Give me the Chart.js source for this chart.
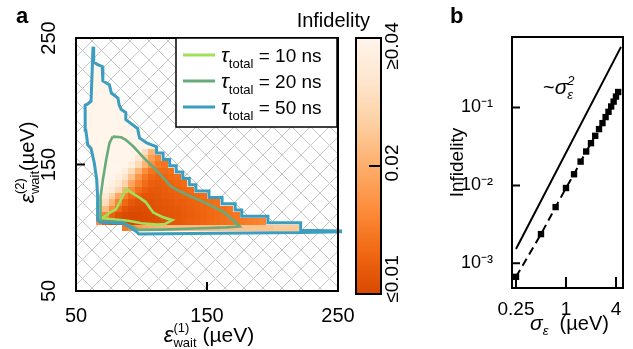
<!DOCTYPE html>
<html><head><meta charset="utf-8">
<script src="https://cdn.jsdelivr.net/npm/chart.js@4.4.1/dist/chart.umd.min.js"></script>
<style>
html,body{margin:0;padding:0;background:#fff;}
body{width:633px;height:349px;position:relative;overflow:hidden;}
canvas{position:absolute;top:0;}
</style></head><body>
<canvas id="ca" width="400" height="349" style="left:0"></canvas>
<canvas id="cc" width="150" height="349" style="left:290px"></canvas>
<canvas id="cb" width="193" height="349" style="left:440px"></canvas>
<script>
// ---------------- data : panel a ----------------
const xTicksA = [50, 150, 250];
const yTicksA = [50, 150, 250];
const contourNames = ['10 ns', '20 ns', '50 ns'];
const contourColors = ['#a0e05c', '#68ab7b', '#3b9dbf'];
const contour10 = [[88.5,131],[92.5,127.5],[96,125.5],[103,120.5],[109,112],[116,108.5],[123.5,106],[118,103],[112,102.5],[100,103.5],[90,105.5],[80,106.5],[70,107.5],[76,112],[80.5,114.5],[83,119.5],[85.5,124.5],[88.5,131]];
const contour20 = [[78,172],[84.5,171.5],[88,169.5],[94,164],[101,156],[108,149],[115,141.5],[122,133],[127,130],[137,125],[147,120.5],[155,116.5],[162.5,112.5],[168,107.5],[172.5,103.5],[175,101],[165,100.3],[152,99.8],[130,99],[114,98.5],[98,98.3],[95,100],[90,102],[85,104.5],[68.5,105],[68.5,110],[69,124.5],[70.5,137.7],[73,153.6],[75.5,166.8],[78,172]];
const contour50 = [[63,243],[63.5,231],[66.5,229],[70,227.5],[70.5,216],[75.5,213],[77,206.5],[82,202.5],[83,197],[84.5,193.5],[88,191],[88,185.5],[97,178.5],[98.5,171],[104,167],[111.5,164],[111.5,159],[116.5,159],[116.5,154],[121.5,154],[121.5,149],[126.5,149],[126.5,144],[131.5,144],[131.5,139],[136.5,139],[136.5,134],[141.5,134],[141.5,129],[151.5,129],[151.5,124],[161.5,124],[161.5,119],[171.5,119],[171.5,114],[176.5,114],[176.5,109],[196.5,109],[196.5,104],[221.5,104],[221.5,98],[252,97.5],[252,96.8],[222,96.2],[98,95],[96,97],[91,100.5],[86,103.5],[68,104.5],[66.5,106],[66.5,124.5],[65.8,138],[64,151],[61.5,162.6],[59,165.4],[57.5,177],[57,197],[58.5,197.5],[61.5,200],[63,243]];
// heat-map cells (5 ueV grid): row centre y, first cell centre x, infidelity values
const heatRowY  = [100, 105, 110, 115, 120, 125, 130, 135, 140, 145, 150, 155, 160];
const heatRowX0 = [87.5, 67.5, 67.5, 67.5, 67.5, 67.5, 72.5, 77.5, 82.5, 87.5, 92.5, 97.5, 102.5];
const heatRowVals = [
 [0.014,0.016,0.018,0.019,0.02,0.021,0.021,0.022,0.022,0.022,0.022,0.022,0.022,0.022,0.022,0.023,0.023,0.023,0.023,0.023,0.023,0.023,0.023,0.024,0.024,0.024,0.024],
 [0.016,0.012,0.0105,0.0101,0.01,0.01,0.0101,0.0102,0.0104,0.0106,0.0108,0.011,0.0112,0.0115,0.0118,0.012,0.0123,0.0126,0.0129,0.0132,0.0135,0.0138,0.0141,0.0144,0.0147,0.015],
 [0.022,0.015,0.0118,0.0106,0.0102,0.0101,0.0101,0.0102,0.0104,0.0106,0.0108,0.011,0.0112,0.0114,0.0117,0.0119,0.0122,0.0125,0.0128,0.0131,0.0134,0.0138],
 [0.031,0.022,0.016,0.0125,0.011,0.0105,0.0103,0.0104,0.0105,0.0107,0.0109,0.0111,0.0113,0.0115,0.0118,0.012,0.0123,0.0126,0.0129,0.0132,0.0136],
 [0.034,0.029,0.021,0.015,0.0125,0.0112,0.0107,0.0106,0.0107,0.0109,0.0111,0.0113,0.0115,0.0117,0.012,0.0122,0.0125,0.0128,0.0132],
 [0.038,0.033,0.026,0.019,0.0145,0.0125,0.0115,0.011,0.011,0.0112,0.0114,0.0116,0.0118,0.012,0.0123,0.0126,0.013],
 [0.038,0.034,0.028,0.021,0.016,0.013,0.0118,0.0113,0.0113,0.0115,0.0118,0.012,0.0124,0.0128],
 [0.038,0.033,0.026,0.019,0.015,0.0128,0.0118,0.0116,0.0118,0.012,0.0124,0.0128],
 [0.037,0.031,0.023,0.017,0.014,0.0125,0.012,0.0122,0.0126,0.013],
 [0.036,0.028,0.021,0.016,0.0135,0.0128,0.0128,0.0132],
 [0.036,0.028,0.021,0.016,0.014,0.0135],
 [0.032,0.024,0.018,0.015],
 [0.029,0.021]
];
const cbTicks  = [0.01, 0.02, 0.04];
const cbLabels = ['≤0.01', '0.02', '≥0.04'];
// ---------------- data : panel b ----------------
const sigma = [0.25,0.5,0.75,1,1.25,1.5,1.75,2,2.25,2.5,2.75,3,3.25,3.5,3.75,4,4.25];
const infid = [0.00067,0.00237,0.00527,0.00926,0.0139,0.0202,0.0272,0.0348,0.0433,0.0528,0.063,0.0753,0.088,0.103,0.119,0.138,0.158];
const guideX = [0.25, 4.6];
const guideY = [0.00153, 0.6];
const xTicksB = [0.25, 1, 4];
const xLabelsB = ['0.25', '1', '4'];
const yTicksB = [0.001, 0.01, 0.1];
const yLabelsB = ['10⁻³', '10⁻²', '10⁻¹'];

// ---------------- helpers ----------------
Chart.defaults.font.family = '"Liberation Sans", Arial, sans-serif';
Chart.defaults.color = '#000';
const FAM = '"Liberation Sans", Arial, sans-serif';
function F(s, it, b) { return (it ? 'italic ' : '') + (b ? 'bold ' : '') + s + 'px ' + FAM; }
const OR = [[255,245,235],[254,230,206],[253,208,162],[253,174,107],[253,141,60],[241,105,19],[217,72,1]];
function cmap(v) {
  let t = Math.log(v / 0.01) / Math.log(4); t = Math.max(0, Math.min(1, t));
  const f = 0.75 * (1 - t) / 0.125; const i = Math.min(5, Math.floor(f)); const r = f - i;
  const a = OR[i], b = OR[i + 1];
  return 'rgb(' + [0,1,2].map(k => Math.round(a[k] + (b[k] - a[k]) * r)).join(',') + ')';
}
function richW(ctx, parts) {
  let w = 0;
  for (const p of parts) {
    ctx.font = F(p.s, p.i);
    if (p.sup != null) w += Math.max(ctx.measureText(p.sup).width, ctx.measureText(p.sub).width);
    else w += ctx.measureText(p.t).width;
  }
  return w;
}
function rich(ctx, parts, x, y, align, rot) {
  ctx.save(); ctx.translate(x, y); if (rot) ctx.rotate(rot);
  const w = richW(ctx, parts);
  let cx = align === 'center' ? -w / 2 : (align === 'right' ? -w : 0);
  ctx.textAlign = 'left'; ctx.textBaseline = 'alphabetic'; ctx.fillStyle = '#000';
  for (const p of parts) {
    ctx.font = F(p.s, p.i);
    if (p.sup != null) {
      const a = ctx.measureText(p.sup).width, b = ctx.measureText(p.sub).width;
      ctx.fillText(p.sup, cx, p.up != null ? p.up : -9);
      ctx.fillText(p.sub, cx, p.dn != null ? p.dn : 5);
      cx += Math.max(a, b);
    } else {
      ctx.fillText(p.t, cx, p.dy || 0); cx += ctx.measureText(p.t).width;
    }
  }
  ctx.restore();
}
function frame(ctx, a) { ctx.save(); ctx.strokeStyle = '#000'; ctx.lineWidth = 2; ctx.strokeRect(a.left, a.top, a.right - a.left, a.bottom - a.top); ctx.restore(); }

// ---------------- panel a ----------------
const toXY = arr => arr.map(p => ({x: p[0], y: p[1]}));
const panelABack = {
  id: 'panelABack',
  beforeDatasetsDraw(chart) {
    const {ctx, chartArea: a, scales: {x, y}} = chart;
    ctx.save();
    ctx.beginPath(); ctx.rect(a.left, a.top, a.right - a.left, a.bottom - a.top); ctx.clip();
    ctx.strokeStyle = '#c6c6c6'; ctx.lineWidth = 1; ctx.beginPath();
    const H = a.bottom - a.top, W = a.right - a.left, s = 19;
    for (let c = -H; c < W + H; c += s) {
      ctx.moveTo(a.left + c, a.top); ctx.lineTo(a.left + c + H, a.bottom);
      ctx.moveTo(a.left + c, a.bottom); ctx.lineTo(a.left + c + H, a.top);
    }
    ctx.stroke();
    ctx.fillStyle = cmap(0.04); ctx.beginPath();
    contour50.forEach((p, i) => { const px = x.getPixelForValue(p[0]), py = y.getPixelForValue(p[1]); i ? ctx.lineTo(px, py) : ctx.moveTo(px, py); });
    ctx.closePath(); ctx.fill();
    heatRowY.forEach((yc, r) => {
      const y1 = Math.round(y.getPixelForValue(yc + 2.5)), y2 = Math.round(y.getPixelForValue(yc - 2.5));
      heatRowVals[r].forEach((v, i) => {
        const xc = heatRowX0[r] + 5 * i;
        const x1 = Math.round(x.getPixelForValue(xc - 2.5)), x2 = Math.round(x.getPixelForValue(xc + 2.5));
        ctx.fillStyle = cmap(v); ctx.fillRect(x1, y1, x2 - x1, y2 - y1);
      });
    });
    ctx.restore();
  },
  afterDatasetsDraw(chart) {
    const {ctx, chartArea: a, scales: {x, y}} = chart;
    frame(ctx, a);
    ctx.save(); ctx.strokeStyle = '#000'; ctx.lineWidth = 2; ctx.beginPath();
    xTicksA.forEach(v => { const px = x.getPixelForValue(v); ctx.moveTo(px, a.bottom); ctx.lineTo(px, a.bottom - 9); });
    yTicksA.forEach(v => { const py = y.getPixelForValue(v); ctx.moveTo(a.left, py); ctx.lineTo(a.left + 9, py); });
    ctx.stroke(); ctx.restore();
    const L = a.right - 162, T = a.top, W = 161, Hh = 89;
    ctx.save(); ctx.fillStyle = '#fff'; ctx.fillRect(L, T, W, Hh);
    ctx.strokeStyle = '#000'; ctx.lineWidth = 1.5; ctx.strokeRect(L, T, W, Hh);
    chart.data.datasets.forEach((ds, i) => {
      const yy = T + 17 + 26 * i;
      ctx.strokeStyle = ds.borderColor; ctx.lineWidth = 3; ctx.beginPath(); ctx.moveTo(L + 7, yy); ctx.lineTo(L + 39, yy); ctx.stroke();
      rich(ctx, [{t: 'τ', s: 21, i: true}, {t: 'total', s: 13, dy: 6}, {t: ' = ' + contourNames[i], s: 19}], L + 45, yy + 7, 'left');
    });
    ctx.restore();
    rich(ctx, [{t: 'ε', s: 22, i: true}, {sup: '(1)', sub: 'wait', s: 13, up: -10, dn: 5}, {t: ' (µeV)', s: 21}], (a.left + a.right) / 2 + 2, 342, 'center');
    rich(ctx, [{t: 'ε', s: 21, i: true}, {sup: '(2)', sub: 'wait', s: 13, up: -10, dn: 5}, {t: '(µeV)', s: 20}], 34, (a.top + a.bottom) / 2 - 2, 'center', -Math.PI / 2);
    ctx.save(); ctx.font = F(22, false, true); ctx.fillStyle = '#000'; ctx.fillText('a', 16, 23); ctx.restore();
  }
};
new Chart(document.getElementById('ca'), {
  type: 'scatter',
  data: { datasets: [contour10, contour20, contour50].map((c, i) => ({
    label: 'τtotal = ' + contourNames[i], data: toXY(c), showLine: true, borderColor: contourColors[i],
    borderWidth: i === 2 ? 3 : 2.6, pointRadius: 0, fill: false, tension: 0, order: 3 - i, clip: i === 2 ? false : 2
  })) },
  options: {
    responsive: false, animation: false, devicePixelRatio: 1, events: [],
    layout: { padding: { top: 38, right: 62, left: 0, bottom: 0 } },
    plugins: { legend: { display: false }, tooltip: { enabled: false } },
    scales: {
      x: { type: 'linear', min: 50, max: 250, afterBuildTicks: s => { s.ticks = xTicksA.map(v => ({value: v})); },
           ticks: { font: { size: 20 }, padding: 5, maxRotation: 0, autoSkip: false, color: '#000' },
           grid: { display: false }, border: { display: false }, afterFit: s => { s.height = 58; } },
      y: { type: 'linear', min: 50, max: 250, afterBuildTicks: s => { s.ticks = yTicksA.map(v => ({value: v})); },
           ticks: { font: { size: 20 }, padding: 2, minRotation: 90, maxRotation: 90, crossAlign: 'center', autoSkip: false, color: '#000' },
           grid: { display: false }, border: { display: false }, afterFit: s => { s.width = 76; } }
    }
  },
  plugins: [panelABack]
});

// ---------------- colour bar ----------------
const cbPlugin = {
  id: 'cbPlugin',
  afterDraw(chart) {
    const {ctx, chartArea: a, scales: {y}} = chart;
    ctx.save();
    for (let py = Math.floor(a.top); py < a.bottom; py++) {
      ctx.fillStyle = cmap(y.getValueForPixel(py + 0.5)); ctx.fillRect(a.left, py, a.right - a.left, 1);
    }
    frame(ctx, a);
    ctx.strokeStyle = '#000'; ctx.lineWidth = 2; ctx.beginPath();
    cbTicks.forEach(v => { const py = y.getPixelForValue(v); ctx.moveTo(a.right, py); ctx.lineTo(a.right - 12, py); });
    ctx.stroke();
    const off = [-15, -3, 8];
    cbTicks.forEach((v, i) => {
      const py = y.getPixelForValue(v) + off[i];
      ctx.save(); ctx.translate(a.right + 17, py); ctx.rotate(-Math.PI / 2);
      ctx.font = F(19); ctx.fillStyle = '#000'; ctx.textAlign = 'center'; ctx.textBaseline = 'alphabetic';
      ctx.fillText(cbLabels[i], 0, 0); ctx.restore();
    });
    ctx.font = F(20); ctx.fillStyle = '#000'; ctx.textAlign = 'right'; ctx.fillText('Infidelity', 80, 27);
    ctx.restore();
  }
};
new Chart(document.getElementById('cc'), {
  type: 'scatter',
  data: { datasets: [] },
  options: {
    responsive: false, animation: false, devicePixelRatio: 1, events: [],
    layout: { padding: { top: 38, right: 0, left: 66, bottom: 55 } },
    plugins: { legend: { display: false }, tooltip: { enabled: false } },
    scales: {
      x: { type: 'linear', min: 0, max: 1, display: false },
      y: { type: 'logarithmic', position: 'right', min: cbTicks[0], max: cbTicks[2], ticks: { display: false },
           grid: { display: false }, border: { display: false }, afterFit: s => { s.width = 59; } }
    }
  },
  plugins: [cbPlugin]
});

// ---------------- panel b ----------------
const panelBPlugin = {
  id: 'panelB',
  afterDatasetsDraw(chart) {
    const {ctx, chartArea: a, scales: {x, y}} = chart;
    frame(ctx, a);
    ctx.save(); ctx.strokeStyle = '#000'; ctx.lineWidth = 2; ctx.beginPath();
    xTicksB.forEach(v => { const px = x.getPixelForValue(v); ctx.moveTo(px, a.bottom); ctx.lineTo(px, a.bottom - 11); });
    yTicksB.forEach(v => { const py = y.getPixelForValue(v); ctx.moveTo(a.left, py); ctx.lineTo(a.left + 8, py); });
    ctx.stroke(); ctx.restore();
    rich(ctx, [{t: 'σ', s: 21, i: true}, {t: 'ε', s: 13, i: true, dy: 5}, {t: '  (µeV)', s: 20}], (a.left + a.right) / 2 + 2, 330, 'center');
    rich(ctx, [{t: '~', s: 20}, {t: 'σ', s: 21, i: true}, {sup: '2', sub: 'ε', s: 13, i: true, up: -9, dn: 5}], 103, 94, 'left');
    ctx.save(); ctx.font = F(22, false, true); ctx.fillStyle = '#000'; ctx.fillText('b', 10, 23); ctx.restore();
  }
};
new Chart(document.getElementById('cb'), {
  type: 'scatter',
  data: { datasets: [
    { label: '~σ²', data: guideX.map((v, i) => ({x: v, y: guideY[i]})), showLine: true, borderColor: '#000', borderWidth: 2, pointRadius: 0 },
    { label: 'Infidelity', data: sigma.map((v, i) => ({x: v, y: infid[i]})), showLine: true, borderColor: '#000', backgroundColor: '#000',
      borderWidth: 2, borderDash: [8, 5], pointStyle: 'rect', pointRadius: 4.5, pointBorderWidth: 0 }
  ] },
  options: {
    responsive: false, animation: false, devicePixelRatio: 1, events: [],
    layout: { padding: { top: 37, right: 10, left: 0, bottom: 0 } },
    plugins: { legend: { display: false }, tooltip: { enabled: false } },
    scales: {
      x: { type: 'logarithmic', min: 0.2238, max: 4.86, afterBuildTicks: s => { s.ticks = xTicksB.map(v => ({value: v})); },
           ticks: { callback: (v, i) => xLabelsB[i], font: { size: 19 }, padding: 2, maxRotation: 0, autoSkip: false, color: '#000' },
           grid: { display: false }, border: { display: false }, afterFit: s => { s.height = 61; } },
      y: { type: 'logarithmic', min: 0.000482, max: 0.803, afterBuildTicks: s => { s.ticks = yTicksB.map(v => ({value: v})); },
           ticks: { callback: (v, i) => yLabelsB[i], font: { size: 18 }, padding: 11, autoSkip: false, color: '#000' },
           title: { display: true, text: 'Infidelity', font: { size: 19 }, padding: { top: 6, bottom: 0 }, color: '#000' },
           grid: { display: false }, border: { display: false }, afterFit: s => { s.width = 72; } }
    }
  },
  plugins: [panelBPlugin]
});
</script>
</body></html>
